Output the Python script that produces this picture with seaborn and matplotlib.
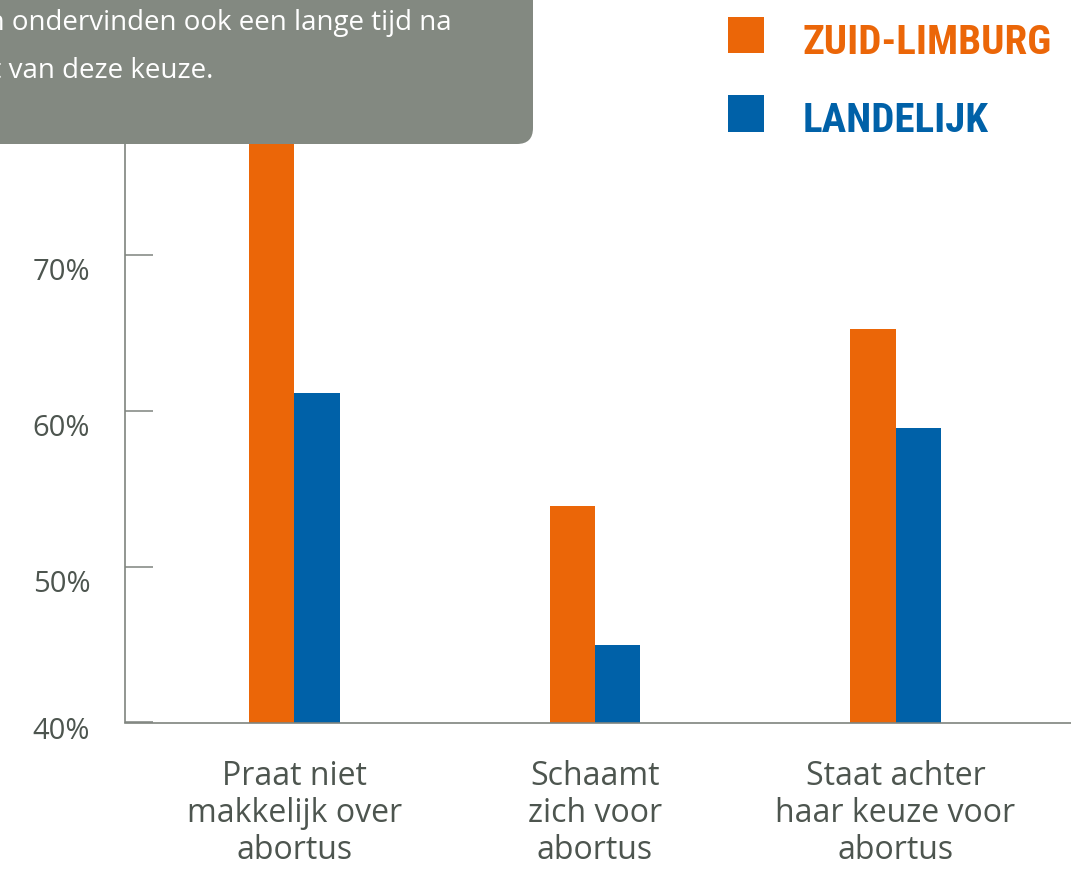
import matplotlib
matplotlib.use("Agg")
import matplotlib.pyplot as plt
from matplotlib import font_manager
from matplotlib.patches import FancyBboxPatch, Rectangle
from matplotlib.transforms import ScaledTranslation
import pandas as pd
import seaborn as sns

# data
categories = [
    "Praat niet\nmakkelijk over\nabortus",
    "Schaamt\nzich voor\nabortus",
    "Staat achter\nhaar keuze voor\nabortus",
]
regions = ["ZUID-LIMBURG", "LANDELIJK"]
zuid_limburg = [79.0, 53.9, 65.2]
landelijk = [61.1, 45.0, 58.9]
y_ticks = [40, 50, 60, 70]
note_lines = [
    "Vrouwen ondervinden ook een lange tijd na",
    "hun abortus geen spijt van deze keuze.",
]

ORANGE = "#EB6608"
BLUE = "#0061A8"
GREY = "#838981"
AXIS = "#7F847E"
TEXT = "#4D554F"


def condensed_font():
    """First narrow bold family that is installed, else plain Roboto."""
    fonts = font_manager.fontManager.ttflist
    for family, stretch in [("Roboto Condensed", None), ("Liberation Sans Narrow", None),
                            ("Open Sans Condensed", None), ("DejaVu Sans", "condensed"),
                            ("Open Sans", "condensed")]:
        for f in fonts:
            if f.name == family and (stretch is None or str(f.stretch) == stretch):
                return family, (stretch or "normal")
    return "Roboto", "normal"


sns.set_style("white")
plt.rcParams["font.family"] = ["Open Sans", "DejaVu Sans"]

df = pd.DataFrame({
    "vraag": categories * len(regions),
    "regio": [r for r in regions for _ in categories],
    "pct": zuid_limburg + landelijk,
})

W, H = 1071, 870
fig = plt.figure(figsize=(W / 100, H / 100), dpi=100)
ax = fig.add_axes([125 / W, 1 - 723.5 / H, 1 - 125 / W, 723.5 / H])

sns.barplot(
    data=df, x="vraag", y="pct", hue="regio",
    order=categories, hue_order=regions,
    palette=[ORANGE, BLUE], saturation=1,
    width=0.3, gap=0, linewidth=0, legend=False, ax=ax,
)

ax.set_xlim(-0.564, 2.584)
ax.set_ylim(40, 40 + 723.5 / 15.6)
ax.set_xlabel("")
ax.set_ylabel("")
sns.despine(ax=ax)
for side in ["left", "bottom"]:
    ax.spines[side].set_color(AXIS)
    ax.spines[side].set_linewidth(1.2)

ax.set_yticks(y_ticks)
ax.set_yticklabels([f"{t}%" for t in y_ticks])
ax.tick_params(axis="y", direction="in", length=20, width=1.1, color=AXIS,
               pad=25, labelsize=21, labelcolor=TEXT, left=True)
ax.tick_params(axis="x", length=0, pad=26, labelsize=23, labelcolor=TEXT)
for lab in ax.get_xticklabels():
    lab.set_linespacing(1.17)

# tick labels sit a little below their tick marks
for i, tick in enumerate(ax.yaxis.get_major_ticks()):
    shift = 0.05 if i == 0 else 0.14
    tick.label1.set_transform(tick.label1.get_transform()
                              + ScaledTranslation(0, -shift, fig.dpi_scale_trans))

# grey note box, cut off at the top left
box = FancyBboxPatch((-0.5, (H - 145) / 100), 5.83, 2.0,
                     boxstyle="round,pad=0,rounding_size=0.16",
                     transform=fig.dpi_scale_trans, facecolor=GREY,
                     edgecolor="none", zorder=5)
fig.add_artist(box)
fig.text(452 / W, 1 - 30 / H, note_lines[0], ha="right", va="baseline",
         color="white", fontsize=20, zorder=6)
fig.text(213 / W, 1 - 78 / H, note_lines[1], ha="right", va="baseline",
         color="white", fontsize=20, zorder=6)

# legend: coloured squares with condensed bold labels
fam, stretch = condensed_font()
renderer = fig.canvas.get_renderer()
legend_texts = []
for i, (name, c) in enumerate(zip(regions, [ORANGE, BLUE])):
    top = 18 + i * 78.5
    fig.add_artist(Rectangle((728 / 100, (H - top - 36) / 100), 0.36, 0.36,
                             transform=fig.dpi_scale_trans, facecolor=c,
                             edgecolor="none"))
    t = fig.text(803 / W, 1 - (top + 35.5) / H, name, ha="left", va="baseline",
                 color=c, fontsize=30, family=fam, fontstretch=stretch,
                 fontweight="bold")
    legend_texts.append(t)

# size the labels so ZUID-LIMBURG spans the same width as in the original
width = legend_texts[0].get_window_extent(renderer).width
size = min(36, 30 * 249 / width)
for t in legend_texts:
    t.set_fontsize(size)

fig.savefig("out.png", dpi=100)
